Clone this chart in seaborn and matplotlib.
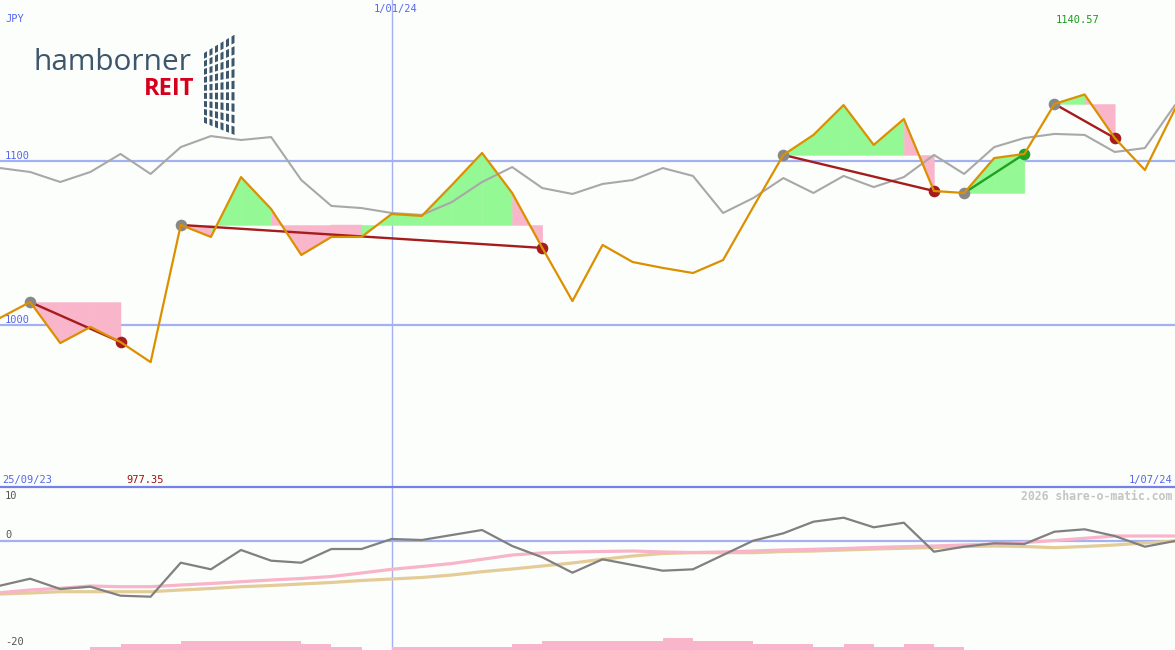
import numpy as np
import pandas as pd
import matplotlib.pyplot as plt
import seaborn as sns
from matplotlib.lines import Line2D
from matplotlib.patches import Polygon

W, H = 1175, 650
BG = "#fcfefc"
BLUE_LINE = "#a3b1f2"
BLUE_TEXT = "#5566ee"
ORANGE = "#dc9000"
GREEN_FILL = "#94f894"
PINK_FILL = "#f9b5c9"
LOSS = "#a51c1c"
WIN = "#22a022"

# weekly closes (JPY)
dates = pd.date_range("2023-10-02", periods=40, freq="7D")
price = [1004.3, 1014.0, 989.0, 998.8, 989.6, 977.35, 1061.0, 1053.7, 1090.2, 1070.7,
         1042.7, 1053.7, 1053.7, 1067.7, 1066.5, 1085.4, 1104.9, 1080.5, 1047.0, 1014.6,
         1048.8, 1038.4, 1034.8, 1031.7, 1039.6, 1071.9, 1103.7, 1115.9, 1134.1, 1109.8,
         1125.6, 1081.7, 1080.5, 1101.8, 1104.3, 1134.8, 1140.57, 1114.0, 1094.5, 1131.7]
# comparison index, rescaled to the price axis
index_line = [1095.7, 1093.3, 1087.2, 1093.3, 1104.3, 1092.1, 1108.5, 1115.2, 1112.8, 1114.6,
              1088.4, 1072.6, 1071.3, 1068.3, 1067.1, 1075.0, 1087.2, 1096.3, 1083.5, 1079.9,
              1086.0, 1088.4, 1095.7, 1090.9, 1068.3, 1077.4, 1089.6, 1080.5, 1090.9, 1084.1,
              1090.2, 1103.7, 1092.1, 1108.5, 1114.0, 1116.5, 1115.9, 1105.5, 1107.9, 1134.1]
# lower panel
momentum = [-8.94, -7.54, -9.6, -9.14, -10.94, -11.14, -4.34, -5.66, -1.8, -3.94,
            -4.34, -1.6, -1.6, 0.4, 0.2, 1.2, 2.2, -1.0, -3.26, -6.34,
            -3.66, -4.8, -5.94, -5.66, -2.8, 0.06, 1.54, 3.86, 4.66, 2.74,
            3.66, -2.14, -1.14, -0.46, -0.6, 1.86, 2.34, 1.0, -1.14, 0.0]
avg_fast = [-10.34, -9.8, -9.46, -9.0, -9.14, -9.14, -8.8, -8.5, -8.14, -7.8,
            -7.5, -7.1, -6.4, -5.66, -5.1, -4.5, -3.66, -2.8, -2.4, -2.2,
            -2.1, -2.0, -2.2, -2.3, -2.2, -2.0, -1.8, -1.66, -1.5, -1.3,
            -1.14, -1.0, -0.8, -0.6, -0.3, 0.1, 0.54, 1.0, 1.0, 1.0]
avg_slow = [-10.6, -10.4, -10.14, -10.14, -10.14, -10.14, -9.8, -9.5, -9.14, -8.9,
            -8.6, -8.3, -7.9, -7.6, -7.3, -6.8, -6.14, -5.6, -5.0, -4.4,
            -3.66, -3.0, -2.5, -2.34, -2.34, -2.34, -2.1, -2.0, -1.8, -1.6,
            -1.46, -1.3, -1.1, -1.0, -1.1, -1.34, -1.1, -0.8, -0.4, 0.0]
volume_level = [0, 0, 0, 1, 2, 2, 3, 3, 3, 3, 2, 1, 0, 1, 1, 1, 1, 2, 3, 3,
                3, 3, 4, 3, 3, 2, 2, 1, 2, 1, 2, 1, 0, 0, 0, 0, 0, 0, 0]
# (entry week, exit week)
trades = [(1, 4), (6, 18), (26, 31), (32, 34), (35, 37)]
price_ticks = [1000, 1100]
momentum_ticks = [10, 0, -20]


def px(x, y):
    return x / W, 1 - y / H


sns.set_style("white")
plt.rcParams["font.family"] = ["DejaVu Sans Mono"]

fig = plt.figure(figsize=(W / 100, H / 100), dpi=100, facecolor=BG)
ax = fig.add_axes([0, 163 / H, 1, 487 / H])
ax2 = fig.add_axes([0, 0, 1, 162 / H])
for a in (ax, ax2):
    a.set_facecolor(BG)
    a.set_xlim(dates[0], dates[-1])
    a.set_xticks([])
    a.set_yticks([])
    for s in a.spines.values():
        s.set_visible(False)
    a.axvline(pd.Timestamp("2024-01-01"), color=BLUE_LINE, lw=1, zorder=0)

# main panel
ax.set_ylim(1100 - 326 / 1.64, 1100 + 161 / 1.64)
for t in price_ticks:
    ax.axhline(t, color=BLUE_LINE, lw=1.6, zorder=0)

for e, x in trades:
    for j in range(e, x):
        up = price[j + 1] >= price[e]
        c = GREEN_FILL if up else PINK_FILL
        ax.fill_between(dates[j:j + 2], price[j:j + 2], price[e], color=c,
                        lw=0.3, edgecolor=c, zorder=1)

sns.lineplot(x=dates, y=index_line, ax=ax, color="#a8a8a8", lw=1.5, zorder=2)

for e, x in trades:
    c = WIN if price[x] > price[e] else LOSS
    ax.plot([dates[e], dates[x]], [price[e], price[x]], color=c, lw=1.7, zorder=3)
    ax.scatter(dates[e], price[e], s=70, color="#888888", lw=0, zorder=4)
    ax.scatter(dates[x], price[x], s=70, color=c, lw=0, zorder=4)

sns.lineplot(x=dates, y=price, ax=ax, color=ORANGE, lw=1.6, zorder=5)

fig.add_artist(Line2D([0, 1], [1 - 487 / H] * 2, color="#7482e6", lw=1.6))

# lower panel
lo, hi = -21.8, 10.6
ax2.set_ylim(lo, hi)
ax2.axhline(0, color=BLUE_LINE, lw=1.6, zorder=0)
ax2.bar(dates[:-1], [v * 0.6 for v in volume_level], bottom=lo, width=7,
        align="edge", color=PINK_FILL, lw=0, zorder=1)
sns.lineplot(x=dates, y=avg_slow, ax=ax2, color="#e3cc98", lw=2.3, zorder=2)
sns.lineplot(x=dates, y=avg_fast, ax=ax2, color="#f8b4c8", lw=2.3, zorder=2)
sns.lineplot(x=dates, y=momentum, ax=ax2, color="#808080", lw=1.6, zorder=3)

# labels
fs = 7.5
fig.text(*px(5, 19), "JPY", color=BLUE_TEXT, fontsize=fs, va="center")
fig.text(*px(396, 9), "1/01/24", color=BLUE_TEXT, fontsize=fs, va="center", ha="center")
fig.text(*px(1056, 20), f"{max(price):.2f}", color="#1c9a1c", fontsize=fs, va="center")
for t in price_ticks:
    yy = 161 + (1100 - t) * 1.64 - 5
    fig.text(*px(5, yy), str(t), color=BLUE_TEXT, fontsize=fs, va="center")
fig.text(*px(2, 480), "25/09/23", color=BLUE_TEXT, fontsize=fs, va="center")
fig.text(*px(126, 480), f"{min(price):.2f}", color="#a01010", fontsize=fs, va="center")
fig.text(*px(1172, 480), "1/07/24", color=BLUE_TEXT, fontsize=fs, va="center", ha="right")
for t, yy in zip(momentum_ticks, [496, 535, 642]):
    fig.text(*px(5, yy), str(t), color="#555555", fontsize=fs, va="center")
fig.text(*px(1172, 496), "2026 share-o-matic.com", color="#c4c4c4", fontsize=8.3,
         fontweight="bold", va="center", ha="right")

# logo
fig.text(*px(34, 70), "hamborner", family="Open Sans", fontsize=21.5, color="#3d566b",
         va="baseline")
fig.text(*px(194, 95), "REIT", family="Open Sans", fontweight="bold", fontsize=17,
         color="#d4001c", va="baseline", ha="right")
top = lambda xx: 53 - (xx - 204) * 0.6
bot = lambda xx: 125 + (xx - 204) * 0.43
rows = 9
for c in range(6):
    x0 = 204 + c * 5.5
    x1 = x0 + 3.0
    for r in range(rows):
        f0, f1 = r / rows, (r + 0.72) / rows
        pts = [px(x0, top(x0) + f0 * (bot(x0) - top(x0))),
               px(x1, top(x1) + f0 * (bot(x1) - top(x1))),
               px(x1, top(x1) + f1 * (bot(x1) - top(x1))),
               px(x0, top(x0) + f1 * (bot(x0) - top(x0)))]
        fig.add_artist(Polygon(pts, closed=True, color="#3d566b", lw=0,
                               transform=fig.transFigure))

fig.savefig("out.png", dpi=100, facecolor=BG)
